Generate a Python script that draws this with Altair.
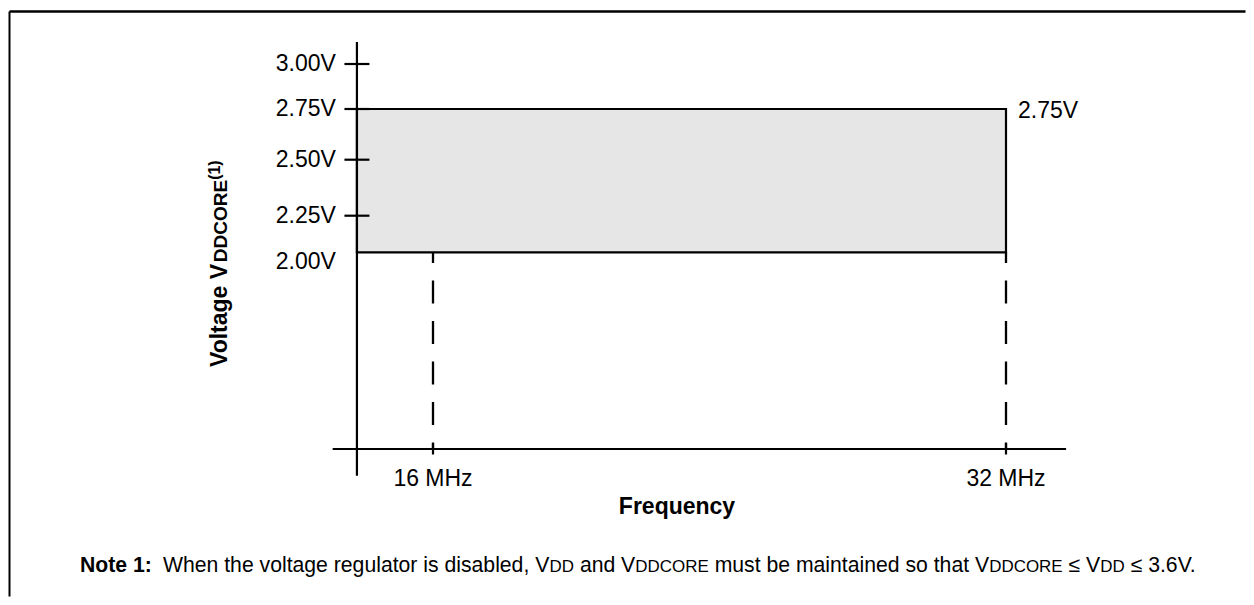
import altair as alt
import pandas as pd

# ---------------- data ----------------
FREQ_TICKS = [16, 32]                        # MHz, x tick values
FREQ_LABELS = ["16 MHz", "32 MHz"]
VOLT_TICKS = [2.00, 2.25, 2.50, 2.75, 3.00]  # V, y tick values
VOLT_LABELS = ["2.00V", "2.25V", "2.50V", "2.75V", "3.00V"]
BAND_FREQ = [13.876, 32.0]                   # operating region (from the y axis to 32 MHz)
BAND_VOLT = [2.00, 2.75]                     # operating region voltage limits
Y_AXIS_AT_FREQ = [13.876]                    # where the y axis crosses
Y_AXIS_VOLT = [0.864, 3.122]                 # y axis line extent
X_AXIS_AT_VOLT = [1.00]                      # where the x axis crosses
X_AXIS_FREQ = [13.198, 33.678]               # x axis line extent
RIGHT_LABEL = ["2.75V"]
X_TITLE = "Frequency"
Y_TITLE = ["Voltage V", "DDCORE", "(1)"]
NOTE_HEAD = "Note 1:"
NOTE_PARTS = [("When the voltage regulator is disabled, V", "r"), ("DD", "sc"),
              (" and V", "r"), ("DDCORE", "sc"), (" must be maintained so that V", "r"),
              ("DDCORE", "sc"), (" \u2264 V", "r"), ("DD", "sc"), (" \u2264 3.6V.", "r")]

# ---------------- layout ----------------
W, H = 1238, 589
FONT = "Liberation Sans"
X_SCALE = alt.Scale(domain=[16, 32], range=[425, 998], nice=False, zero=False)
Y_SCALE = alt.Scale(domain=[1.00, 2.00, 2.25, 2.50, 2.75, 3.00],
                    range=[441, 244.3, 207.7, 151.7, 101, 56], nice=False, zero=False)

REG = {' ': 278, ',': 278, '.': 278, ':': 278, '(': 333, ')': 333, '\u2264': 549,
       'C': 722, 'D': 722, 'E': 667, 'O': 778, 'R': 722, 'V': 667, 'W': 944,
       'a': 556, 'b': 556, 'c': 500, 'd': 556, 'e': 556, 'g': 556, 'h': 556, 'i': 222,
       'l': 222, 'm': 833, 'n': 556, 'o': 556, 'r': 333, 's': 500, 't': 278, 'u': 556,
       'v': 500}
for _d in "0123456789":
    REG[_d] = 556
BOLD = {' ': 278, ':': 333, '(': 333, ')': 333, 'C': 722, 'D': 722, 'E': 667, 'N': 722,
        'O': 778, 'R': 722, 'V': 667, 'a': 556, 'e': 556, 'g': 611, 'l': 278, 'o': 611,
        't': 333}
for _d in "0123456789":
    BOLD[_d] = 556


def tw(s, size, bold=False):
    t = BOLD if bold else REG
    return sum(t.get(c, 556) for c in s) / 1000.0 * size


def X(field):
    return alt.X(field, scale=X_SCALE, axis=None)


def Y(field):
    return alt.Y(field, scale=Y_SCALE, axis=None)


one = pd.DataFrame({"a": [0]})

# figure frame: top and left edges, kept inside the canvas
frame_top = alt.Chart(one).mark_rule(color="black", strokeWidth=2.3).encode(
    x=alt.value(1.5), x2=alt.value(W - 0.5), y=alt.value(3.5))
frame_left = alt.Chart(one).mark_rule(color="black", strokeWidth=2).encode(
    x=alt.value(1.5), y=alt.value(3.5), y2=alt.value(H - 0.5))

box_df = pd.DataFrame({"f0": [BAND_FREQ[0]], "f1": [BAND_FREQ[1]],
                       "v0": [BAND_VOLT[0]], "v1": [BAND_VOLT[1]]})
box = alt.Chart(box_df).mark_rect(fill="#e6e6e6", stroke="black", strokeWidth=2.2).encode(
    x=X("f0:Q"), x2="f1:Q", y=Y("v0:Q"), y2="v1:Q")

dash_df = pd.DataFrame({"f": FREQ_TICKS, "v0": [BAND_VOLT[0]] * len(FREQ_TICKS),
                        "v1": X_AXIS_AT_VOLT * len(FREQ_TICKS)})
dashed = alt.Chart(dash_df).mark_rule(color="black", strokeWidth=2.3, strokeDash=[23, 17.5],
                                      strokeDashOffset=12.3).encode(
    x=X("f:Q"), y=Y("v0:Q"), y2="v1:Q")

yline = alt.Chart(pd.DataFrame({"f": Y_AXIS_AT_FREQ, "v0": [Y_AXIS_VOLT[0]],
                                "v1": [Y_AXIS_VOLT[1]]})).mark_rule(
    color="black", strokeWidth=2.2).encode(x=X("f:Q"), y=Y("v0:Q"), y2="v1:Q")
xline = alt.Chart(pd.DataFrame({"v": X_AXIS_AT_VOLT, "f0": [X_AXIS_FREQ[0]],
                                "f1": [X_AXIS_FREQ[1]]})).mark_rule(
    color="black", strokeWidth=2.2).encode(y=Y("v:Q"), x=X("f0:Q"), x2="f1:Q")

ytick_df = pd.DataFrame({"f": Y_AXIS_AT_FREQ * len(VOLT_TICKS), "v": VOLT_TICKS,
                         "t": VOLT_LABELS})
# the lower band edge (2.00V) has no tick mark in the original
yticks = alt.Chart(ytick_df).transform_filter("datum.v > 2.1").mark_tick(
    orient="horizontal", size=25, thickness=2.2, color="black", opacity=1).encode(
    x=X("f:Q"), y=Y("v:Q"))
ylabels = alt.Chart(ytick_df).transform_filter("datum.v > 2.1").mark_text(
    align="right", baseline="middle", dx=-21, font=FONT, fontSize=23,
    color="black").encode(x=X("f:Q"), y=Y("v:Q"), text="t:N")
ylabel_low = alt.Chart(ytick_df).transform_filter("datum.v < 2.1").mark_text(
    align="right", baseline="middle", dx=-21, dy=10, font=FONT, fontSize=23,
    color="black").encode(x=X("f:Q"), y=Y("v:Q"), text="t:N")

xtick_df = pd.DataFrame({"f": FREQ_TICKS, "v": X_AXIS_AT_VOLT * len(FREQ_TICKS),
                         "t": FREQ_LABELS})
xticks = alt.Chart(xtick_df).mark_tick(orient="vertical", size=11, thickness=2.2,
                                       color="black", opacity=1).encode(
    x=X("f:Q"), y=Y("v:Q"))
xlabels = alt.Chart(xtick_df).mark_text(align="center", baseline="alphabetic", dy=37,
                                        font=FONT, fontSize=23, color="black").encode(
    x=X("f:Q"), y=Y("v:Q"), text="t:N")

xtitle = alt.Chart(one).mark_text(align="center", baseline="alphabetic", font=FONT,
                                  fontSize=23, fontWeight="bold", color="black").encode(
    x=alt.value(669), y=alt.value(506.3), text=alt.value(X_TITLE))

rl_df = pd.DataFrame({"f": [BAND_FREQ[1]], "v": [BAND_VOLT[1]], "t": RIGHT_LABEL})
right_label = alt.Chart(rl_df).mark_text(align="left", baseline="middle", dx=12, dy=2,
                                         font=FONT, fontSize=23, color="black").encode(
    x=X("f:Q"), y=Y("v:Q"), text="t:N")

# y axis title (rotated, mixed sizes)
layers_title = []
ty0, tx = 359, 219
sizes = [23, 19, 16]
raise_ = [0, 0, 7]
cur = ty0
for txt, sz, rz in zip(Y_TITLE, sizes, raise_):
    layers_title.append(alt.Chart(one).mark_text(
        angle=270, align="left", baseline="alphabetic", font=FONT, fontSize=sz,
        fontWeight="bold", color="black").encode(
        x=alt.value(tx - rz), y=alt.value(cur), text=alt.value(txt)))
    cur -= tw(txt, sz, True)

# note
NOTE_FS = 21.2
SC = 0.8
nx0, ny = 72, 564
note_layers = [alt.Chart(one).mark_text(align="left", baseline="alphabetic", font=FONT,
                                        fontSize=NOTE_FS, fontWeight="bold",
                                        color="black").encode(
    x=alt.value(nx0), y=alt.value(ny), text=alt.value(NOTE_HEAD))]
cur = 155
for txt, kind in NOTE_PARTS:
    sz = NOTE_FS * (SC if kind == "sc" else 1)
    lead = len(txt) - len(txt.lstrip())
    note_layers.append(alt.Chart(one).mark_text(
        align="left", baseline="alphabetic", font=FONT, fontSize=sz,
        color="black").encode(
        x=alt.value(cur + tw(" " * lead, sz)), y=alt.value(ny), text=alt.value(txt.strip())))
    cur += tw(txt, sz)

chart = alt.layer(frame_top, frame_left, box, dashed, yline, xline, yticks, ylabels,
                  ylabel_low, xticks, xlabels, xtitle, right_label, *layers_title,
                  *note_layers).properties(
    width=W, height=H, autosize=alt.AutoSizeParams(type="none"), padding=0,
    background="white"
).configure_view(strokeWidth=0, stroke="transparent")

chart.save("out.html", embed_options={"renderer": "svg", "actions": False})
